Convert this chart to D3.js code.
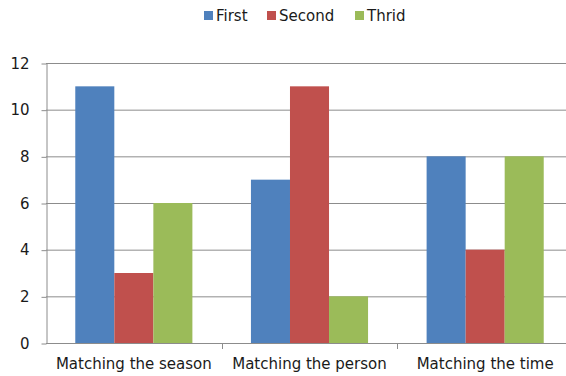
<!DOCTYPE html>
<html>
<head>
<meta charset="utf-8">
<script src="https://cdn.jsdelivr.net/npm/d3@7"></script>
<style>
  html, body { margin: 0; padding: 0; background: #fff; }
  svg { display: block; }
  text { font-family: "DejaVu Sans", sans-serif; fill: #1a1a1a; }
</style>
</head>
<body>
<svg id="chart" width="566" height="376"></svg>
<script>
// Chart data
const categories = ["Matching the season", "Matching the person", "Matching the time"];
const seriesNames = ["First", "Second", "Thrid"];
const firstValues = [11, 7, 8];
const secondValues = [3, 11, 4];
const thridValues = [6, 2, 8];
const yTicks = [0, 2, 4, 6, 8, 10, 12];
const colors = ["#4F81BD", "#C0504D", "#9BBB59"];

const seriesValues = [firstValues, secondValues, thridValues];
const FONT = "'DejaVu Sans', sans-serif";
const FS = 15;

const svg = d3.select("#chart");
const margin = { left: 46, right: -7, top: 63, bottom: 33 };
const W = 566, H = 376;

const x0 = d3.scaleBand()
  .domain(categories)
  .range([margin.left, W - margin.right])
  .paddingInner(0).paddingOuter(0);

// 150% gap between category groups
const groupWidth = x0.bandwidth() * 3 / 4.5;
const x1 = d3.scaleBand()
  .domain(seriesNames)
  .range([0, groupWidth])
  .padding(0);

const y = d3.scaleLinear()
  .domain([0, 12])
  .range([H - margin.bottom, margin.top]);

// Horizontal gridlines
svg.append("g")
  .selectAll("line")
  .data(yTicks.filter(d => d !== 0))
  .join("line")
  .attr("x1", margin.left).attr("x2", W)
  .attr("y1", d => y(d) + 0.5).attr("y2", d => y(d) + 0.5)
  .attr("stroke", "#8c8c8c").attr("stroke-width", 1);

// Y axis
const yAxis = d3.axisLeft(y).tickValues(yTicks).tickSize(5).tickPadding(12).tickSizeOuter(0);
const gy = svg.append("g")
  .attr("transform", `translate(${margin.left + 0.5},0.5)`)
  .call(yAxis);
gy.select(".domain").attr("stroke", "#8c8c8c");
gy.selectAll(".tick line").attr("stroke", "#8c8c8c");
gy.selectAll(".tick text").attr("font-size", FS).style("fill", "#1a1a1a")
  .attr("font-family", FONT);

// Bars
const groups = svg.append("g")
  .selectAll("g")
  .data(categories)
  .join("g")
  .attr("transform", c => `translate(${x0(c) + (x0.bandwidth() - groupWidth) / 2},0)`);

groups.selectAll("rect")
  .data((c, i) => seriesNames.map((s, k) => ({ s, k, v: seriesValues[k][i] })))
  .join("rect")
  .attr("x", d => x1(d.s))
  .attr("width", x1.bandwidth())
  .attr("y", d => y(d.v))
  .attr("height", d => y(0) - y(d.v))
  .attr("fill", d => colors[d.k]);

// X axis
const xAxis = d3.axisBottom(x0).tickSize(0).tickPadding(15).tickSizeOuter(0);
const gx = svg.append("g")
  .attr("transform", `translate(0,${y(0) + 0.5})`)
  .call(xAxis);
gx.select(".domain").attr("stroke", "#8c8c8c").attr("d", `M${margin.left},0H${W}`);
gx.selectAll(".tick text").attr("font-size", FS).style("fill", "#1a1a1a")
  .attr("font-family", FONT);

// Category boundary ticks
svg.append("g")
  .selectAll("line")
  .data(categories.slice(1))
  .join("line")
  .attr("x1", c => Math.round(x0(c)) + 0.5).attr("x2", c => Math.round(x0(c)) + 0.5)
  .attr("y1", y(0)).attr("y2", y(0) + 6)
  .attr("stroke", "#8c8c8c");

// Legend
const legendPos = [204, 267, 355];
const legend = svg.append("g");
seriesNames.forEach((s, k) => {
  legend.append("rect")
    .attr("x", legendPos[k]).attr("y", 11)
    .attr("width", 9).attr("height", 9)
    .attr("fill", colors[k]);
  legend.append("text")
    .attr("x", legendPos[k] + 12).attr("y", 20.5)
    .attr("font-size", FS)
    .text(s);
});
</script>
</body>
</html>
